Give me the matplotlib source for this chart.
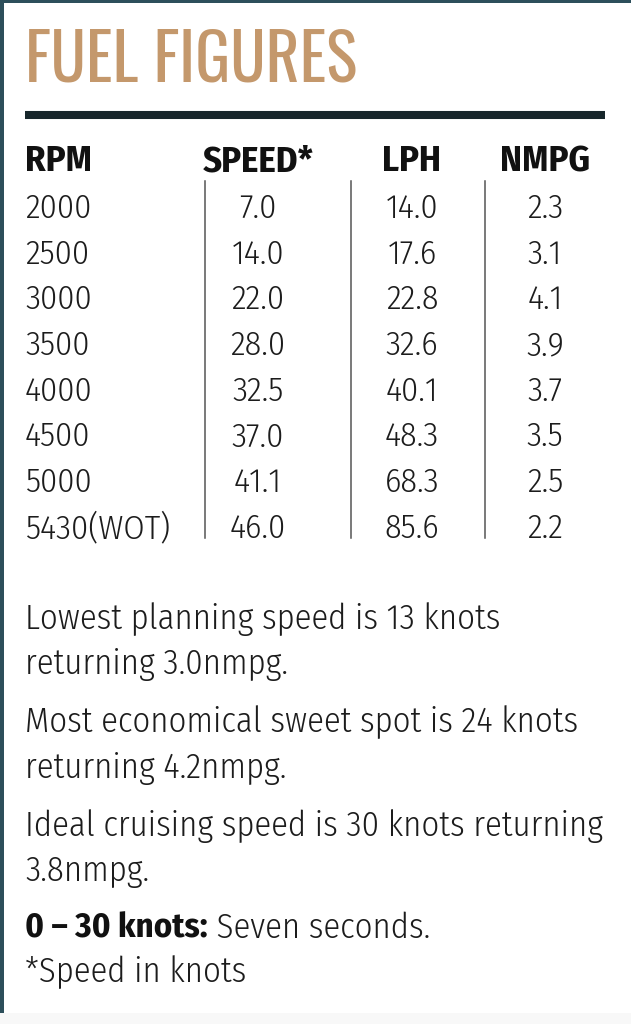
import matplotlib
matplotlib.use("Agg")
import matplotlib.pyplot as plt

# table data
headers = ["RPM", "SPEED*", "LPH", "NMPG"]
rpm = ["2000", "2500", "3000", "3500", "4000", "4500", "5000", "5430(WOT)"]
speed = [7.0, 14.0, 22.0, 28.0, 32.5, 37.0, 41.1, 46.0]
lph = [14.0, 17.6, 22.8, 32.6, 40.1, 48.3, 68.3, 85.6]
nmpg = [2.3, 3.1, 4.1, 3.9, 3.7, 3.5, 2.5, 2.2]

notes = ["Lowest planning speed is 13 knots",
         "returning 3.0nmpg.",
         "Most economical sweet spot is 24 knots",
         "returning 4.2nmpg.",
         "Ideal cruising speed is 30 knots returning",
         "3.8nmpg."]
accel_bold = "0 \u2013 30 knots:"
accel_text = " Seven seconds."
footnote = "*Speed in knots"

TITLE_FONT = ["Oswald", "Fira Sans Extra Condensed", "Roboto"]
HEAD_FONT = ["Fira Sans Condensed", "Roboto"]
BODY_FONT = ["Fira Sans Condensed", "Roboto"]
TXT = "#1c1c1c"

W, H = 631, 1024
fig = plt.figure(figsize=(W / 100, H / 100), dpi=100)
ax = fig.add_axes([0, 0, 1, 1])
ax.set_xlim(0, W)
ax.set_ylim(H, 0)
ax.axis("off")
renderer = fig.canvas.get_renderer()


def fit_size(s, target_w, **kw):
    t = ax.text(0, 0, s, fontsize=20, **kw)
    w = t.get_window_extent(renderer).width
    t.remove()
    return 20 * target_w / w


def text_w(t):
    return t.get_window_extent(renderer).width


# borders
ax.axvspan(0, 4, color="#2d4f5b", lw=0)
ax.axhspan(0, 2.5, color="#2d4f5b", lw=0)
ax.axhspan(1013, H, color="#f8f8f8", lw=0)

# title
ts = fit_size("FUEL FIGURES", 332, family=TITLE_FONT, weight=200)
ax.text(25, 82, "FUEL FIGURES", fontsize=ts, family=TITLE_FONT, weight=200,
        color="#c4986c", va="baseline", ha="left")

# thick rule
ax.plot([25, 605], [115, 115], color="#17262b", lw=5.8, solid_capstyle="butt")

# header
hs = fit_size("NMPG", 90, family=HEAD_FONT, weight="bold")
col_x = [25, 258, 412, 545]
for i, h in enumerate(headers):
    ax.text(col_x[i], 171, h, fontsize=hs, family=HEAD_FONT, weight="bold",
            color="#111111", ha="left" if i == 0 else "center", va="baseline")

# dividers
for x in [205, 351, 485]:
    ax.plot([x, x], [181, 538], color="#555555", lw=1.1)

# rows
rs = fit_size("5430(WOT)", 145, family=BODY_FONT, weight=300)
for i in range(len(rpm)):
    y = 218 + i * 45.7
    ax.text(col_x[0], y, rpm[i], fontsize=rs, family=BODY_FONT, weight=300,
            color=TXT, va="baseline")
    for cx, vals in zip(col_x[1:], [speed, lph, nmpg]):
        ax.text(cx, y, f"{vals[i]:.1f}", fontsize=rs, family=BODY_FONT, weight=300,
                color=TXT, va="baseline", ha="center")

# notes
ns = fit_size(notes[2], 553, family=BODY_FONT, weight=300)
note_y = [629, 674, 732, 778, 836, 881]
for s, y in zip(notes, note_y):
    ax.text(25, y, s, fontsize=ns, family=BODY_FONT, weight=300, color=TXT,
            va="baseline")

tb = ax.text(25, 938, accel_bold, fontsize=ns, family=BODY_FONT, weight="bold",
             color="#111111", va="baseline")
ax.text(25 + text_w(tb), 938, accel_text, fontsize=ns, family=BODY_FONT,
        weight=300, color=TXT, va="baseline")
ax.text(25, 982, footnote, fontsize=ns, family=BODY_FONT, weight=300, color=TXT,
        va="baseline")

fig.savefig("out.png", dpi=100)
